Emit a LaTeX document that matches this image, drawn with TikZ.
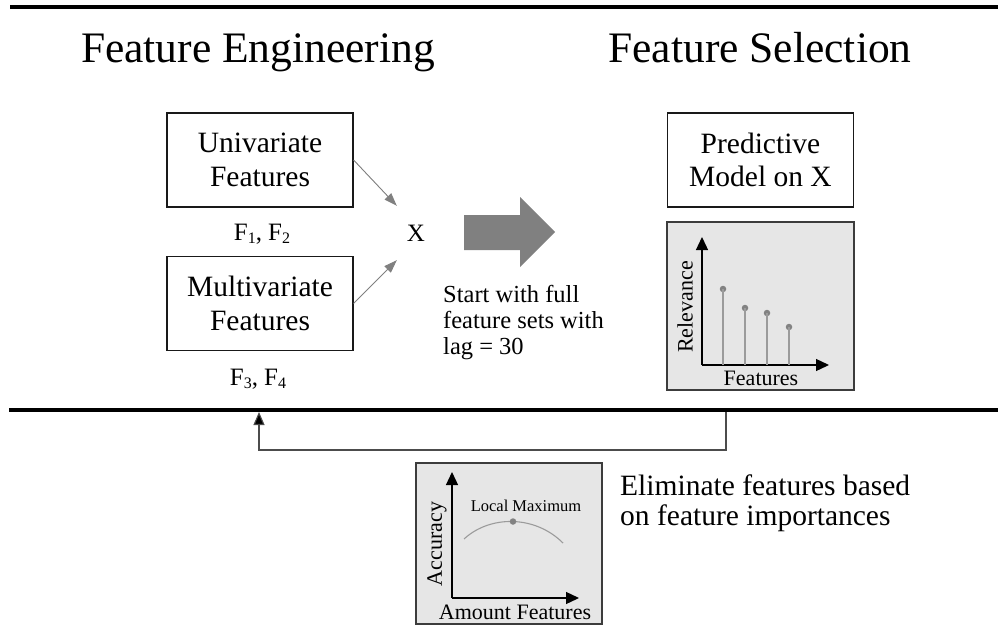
\documentclass[tikz,border=0pt]{standalone}
\usepackage{fontspec}
\setmainfont{Liberation Serif}
\usetikzlibrary{arrows.meta}

\definecolor{panelfill}{RGB}{230,230,230}
\definecolor{panelline}{RGB}{60,60,60}
\definecolor{arrowgray}{RGB}{128,128,128}
\definecolor{stemgray}{RGB}{155,155,155}
\definecolor{dotgray}{RGB}{130,130,130}

\newcommand{\titlefont}{\fontsize{43.5}{48}\selectfont}
\newcommand{\boxfont}{\fontsize{29.5}{33.5}\selectfont}
\newcommand{\notefont}{\fontsize{24.5}{26}\selectfont}
\newcommand{\bigfont}{\fontsize{29.5}{30}\selectfont}
\newcommand{\labfont}{\fontsize{25}{28}\selectfont}
\newcommand{\axisfont}{\fontsize{22}{24}\selectfont}
\newcommand{\tinyfont}{\fontsize{16.5}{18}\selectfont}
% feature name with a lowered index
\newcommand{\feat}[1]{F\raisebox{-3.5pt}{\fontsize{16}{16}\selectfont #1}}

\begin{document}
\begin{tikzpicture}[x=1pt,y=-1pt,
  rule/.style={line width=3.4pt},
  featbox/.style={draw=black!90, line width=1.2pt, minimum width=186pt,
    minimum height=94pt, align=center, font=\boxfont, inner sep=0pt},
  panel/.style={draw=panelline, fill=panelfill, line width=1.2pt},
  axis/.style={line width=1.3pt, -{Triangle[width=12pt,length=13pt]}},
  thinarrow/.style={draw=arrowgray, line width=0.9pt,
    -{Triangle[width=9pt,length=13pt]}, fill=arrowgray},
  feedback/.style={draw=black!70, line width=1.1pt,
    -{Triangle[width=11pt,length=13pt,fill=black]}},
  stem/.style={draw=stemgray, line width=1.3pt},
  dot/.style={circle, fill=dotgray, inner sep=0pt, minimum size=6.5pt},
  lab/.style={inner sep=0pt}
]
\useasboundingbox (0,0) rectangle (998,626);

% horizontal rules
\draw[rule] (10,7) -- (998,7);
\draw[rule] (9,410) -- (998,410);

% section titles
\node[lab, anchor=base, font=\titlefont] (tfe) at (258,63) {Feature Engineering};
\node[lab, anchor=base, font=\titlefont] (tfs) at (760,63) {Feature Selection};

% feature groups
\node[featbox] (uni) at (260,160) {Univariate\\Features};
\node[featbox] (multi) at (260,303.5) {Multivariate\\Features};
\node[lab, anchor=base, font=\labfont] (f12) at (262,240) {\feat{1}, \feat{2}};
\node[lab, anchor=base, font=\labfont] (f34) at (258,385) {\feat{3}, \feat{4}};

% combined feature matrix
\node[minimum width=38pt, minimum height=54pt, inner sep=0pt, font=\labfont] (x) at (416,233) {X};
\draw[thinarrow] (uni.east) -- (x.north west);
\draw[thinarrow] (multi.east) -- (x.south west);

% transition arrow
\fill[arrowgray] (464,215) -- (520,215) -- (520,197) -- (555,232)
  -- (520,267) -- (520,250) -- (464,250) -- cycle;
\node[lab, anchor=west, align=left, font=\notefont] (start) at (443,323)
  {Start with full\\feature sets with\\lag = 30};

% predictive model
\node[featbox] (model) at (760.5,160) {Predictive\\Model on X};

% relevance chart
\draw[panel] (667,222) rectangle (854,390);
\coordinate (ro) at (702,365);
\coordinate (ry) at (702,237);
\coordinate (rx) at (829,365);
\draw[axis] (ro) -- (ry);
\draw[axis] (ro) -- (rx);
\foreach \i/\xx/\yy in {1/723/289, 2/745/308, 3/767/313, 4/789/327} {
  \node[dot] (r\i) at (\xx,\yy) {};
  \draw[stem] (r\i.center) -- (\xx,365);
}
\node[lab, rotate=90, font=\axisfont] (rel) at (685,307) {Relevance};
\node[lab, font=\axisfont] (rfeat) at (761,378) {Features};

% feedback loop
\coordinate (fbtop) at (726,412);
\coordinate (fblow) at (726,450);
\coordinate (fbend) at (259,412);
\draw[feedback] (fbtop) -- (fblow) -| (fbend);

% accuracy chart
\draw[panel] (416,463) rectangle (602,624);
\coordinate (ao) at (452,598);
\coordinate (ay) at (452,472);
\coordinate (ax) at (579,598);
\draw[axis] (ao) -- (ay);
\draw[axis] (ao) -- (ax);
\draw[stem, line width=1.1pt] (464,539) .. controls (490,515) and (535,515) .. (563,543);
\node[dot] (peak) at (513,521.5) {};
\node[lab, font=\tinyfont] (lmax) at (526,506) {Local Maximum};
\node[lab, rotate=90, font=\axisfont] (acc) at (437,544) {Accuracy};
\node[lab, font=\axisfont] (amt) at (515,612) {Amount Features};

\node[lab, anchor=west, align=left, font=\bigfont] (elim) at (620,503)
  {Eliminate features based\\on feature importances};
\end{tikzpicture}
\end{document}
